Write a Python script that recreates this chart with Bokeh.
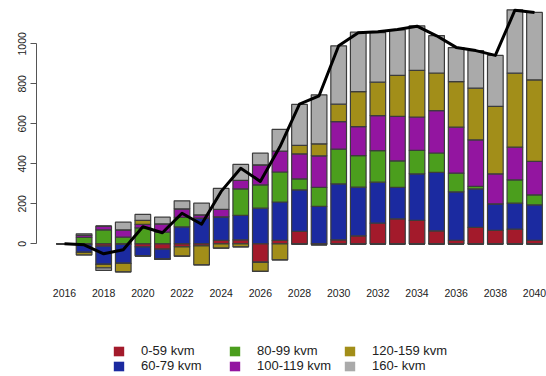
from bokeh.plotting import figure
from bokeh.models import ColumnDataSource, FixedTicker, Legend, LegendItem, Range1d
from bokeh.embed import file_html
from bokeh.resources import INLINE

# ---- data ----
years = list(range(2016, 2041))
categories = ["0-59 kvm", "60-79 kvm", "80-99 kvm", "100-119 kvm", "120-159 kvm", "160- kvm"]
colors = ["#a31a2b", "#1b2aa0", "#4b9e1d", "#9315a0", "#a28e19", "#aaaaaa"]

kvm_0_59 =    [0, -3, -12, -3, -15, -27, -15, -10, 17, 20, -93, 17, 62, -4, 20, 40, 103, 125, 117, 65, 17, 82, 67, 73, 17]
kvm_60_79 =   [0, -40, -91, -95, -45, -50, 85, 128, 118, 122, 178, 192, 208, 187, 280, 243, 205, 157, 233, 292, 243, 193, 133, 130, 178]
kvm_80_99 =   [0, 32, 70, 33, 80, 58, 47, 0, 0, 133, 117, 150, 55, 95, 173, 158, 158, 133, 117, 97, 93, 12, 0, 117, 50]
kvm_100_119 = [0, 10, 18, 37, 17, 42, 43, 17, 37, 42, 100, 105, 125, 158, 138, 145, 175, 222, 167, 212, 230, 233, 150, 163, 167]
kvm_120_159 = [0, -13, -17, -42, 20, 0, -47, -95, -22, -15, -45, -80, 42, 60, 87, 175, 167, 205, 233, 188, 228, 258, 337, 370, 408]
kvm_160 =     [0, 8, -13, 38, 30, 33, 40, 58, 105, 80, 58, 108, 205, 245, 292, 297, 248, 228, 223, 187, 170, 188, 255, 317, 337]
net_total =   [0, -5, -50, -30, 85, 55, 153, 98, 262, 378, 312, 485, 698, 740, 990, 1055, 1060, 1072, 1088, 1040, 982, 966, 942, 1168, 1157]

x_tick_years = years[::2]
y_ticks = [0, 200, 400, 600, 800, 1000]

series = [kvm_0_59, kvm_60_79, kvm_80_99, kvm_100_119, kvm_120_159, kvm_160]

data = {"year": years, "net": net_total}
pos_keys, neg_keys = [], []
for i, s in enumerate(series):
    data[f"p{i}"] = [max(v, 0) for v in s]
    data[f"n{i}"] = [min(v, 0) for v in s]
    pos_keys.append(f"p{i}")
    neg_keys.append(f"n{i}")
src = ColumnDataSource(data)

FONT = "Liberation Sans"

# plot frame spans the full height; the x axis is pinned at y = -173.5 (just under the lowest bar)
p = figure(width=546, height=376,
           x_range=Range1d(2014.57, 2040.613), y_range=Range1d(-663.5, 1216.5),
           output_backend="svg", toolbar_location=None,
           min_border_left=36, min_border_right=0, min_border_top=0, min_border_bottom=0)
p.background_fill_color = "white"
p.border_fill_color = "white"
p.outline_line_color = None
p.grid.visible = False

bar_kw = dict(x="year", width=0.8, source=src, line_color="#3c3c3c", line_width=1.2)
p.vbar_stack(pos_keys, fill_color=colors, **bar_kw)
p.vbar_stack(neg_keys, fill_color=colors, **bar_kw)

p.line("year", "net", source=src, line_color="black", line_width=3, line_join="round")

# axes
p.yaxis.ticker = FixedTicker(ticks=y_ticks)
p.yaxis.bounds = (0, 1000)
p.yaxis.major_label_orientation = "vertical"
p.yaxis.major_tick_out = 6
p.yaxis.major_tick_in = 0
p.yaxis.minor_tick_out = 0
p.yaxis.minor_tick_in = 0
p.yaxis.axis_line_color = "#555555"
p.yaxis.major_tick_line_color = "#555555"
p.yaxis.major_label_standoff = 4
p.yaxis.major_label_text_font_size = "10.5px"
p.yaxis.major_label_text_font = FONT
p.yaxis.major_label_text_color = "#222222"

p.xaxis.fixed_location = -173.5
p.xaxis.ticker = FixedTicker(ticks=x_tick_years)
p.xaxis.axis_line_color = None
p.xaxis.major_tick_line_color = None
p.xaxis.minor_tick_line_color = None
p.xaxis.major_label_standoff = 4
p.xaxis.major_label_text_font_size = "10.5px"
p.xaxis.major_label_text_font = FONT
p.xaxis.major_label_text_color = "#222222"

# legend: three columns of two entries; swatches come from hidden, outline-free copies of the bars
swatches = [p.vbar(x="year", top=k, width=0.8, source=src, fill_color=c, line_color=None, visible=False)
            for k, c in zip(pos_keys, colors)]
col_offsets = [76, 192, 307]
for col in range(3):
    items = [LegendItem(label=categories[2 * col + k], renderers=[swatches[2 * col + k]]) for k in range(2)]
    leg = Legend(items=items, location=(col_offsets[col], 3), orientation="vertical",
                 glyph_width=13, glyph_height=12, label_height=15, label_width=20,
                 label_standoff=16, spacing=0, padding=0, margin=0,
                 border_line_color=None, background_fill_alpha=0,
                 inactive_fill_alpha=0,
                 label_text_font_size="13px", label_text_font=FONT,
                 label_text_color="#222222")
    p.add_layout(leg)

open("out.html", "w").write(file_html(p, INLINE))
